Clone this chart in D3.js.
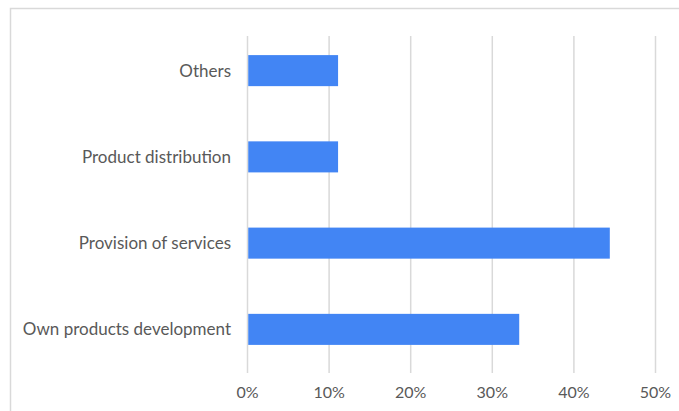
<!DOCTYPE html>
<html><head><meta charset="utf-8">
<script src="https://cdn.jsdelivr.net/npm/d3@7"></script>
<style>body{margin:0;background:#fff;}svg{display:block;}</style>
</head><body>
<script>
const categories = ["Others", "Product distribution", "Provision of services", "Own products development"];
const values = [11.1, 11.1, 44.4, 33.3];
const tickValues = [0, 10, 20, 30, 40, 50];
const tickLabels = ["0%", "10%", "20%", "30%", "40%", "50%"];

const W = 679, H = 411;
const svg = d3.select("body").append("svg").attr("width", W).attr("height", H);

svg.append("rect").attr("x", 10.5).attr("y", 8.5).attr("width", 700).attr("height", 500)
  .attr("fill", "none").attr("stroke", "#d9d9d9").attr("stroke-width", 1.5);

const x = d3.scaleLinear().domain([0, 50]).range([247.5, 655.5]);
const y = d3.scaleBand().domain(categories).range([27.5, 372.5]).paddingInner(0.64).paddingOuter(0.32);

const grid = svg.append("g");
grid.selectAll("line").data(tickValues).join("line")
  .attr("x1", d => x(d)).attr("x2", d => x(d)).attr("y1", 36).attr("y2", 373)
  .attr("stroke", "#d9d9d9").attr("stroke-width", 1.5);

svg.append("g").selectAll("rect").data(categories).join("rect")
  .attr("x", x(0) + 0.75).attr("y", d => y(d))
  .attr("width", (d, i) => x(values[i]) - x(0) - 0.75).attr("height", y.bandwidth())
  .attr("fill", "#4285f4");

const font = "Lato, sans-serif";
svg.append("g").selectAll("text").data(categories).join("text")
  .attr("x", 231).attr("y", d => y(d) + y.bandwidth() / 2).attr("dy", "0.35em")
  .attr("text-anchor", "end").attr("font-family", font).attr("font-size", 17)
  .attr("fill", "#595959").text(d => d);

svg.append("g").selectAll("text").data(tickValues).join("text")
  .attr("x", d => x(d)).attr("y", 398).attr("text-anchor", "middle")
  .attr("font-family", font).attr("font-size", 16).attr("fill", "#595959")
  .text((d, i) => tickLabels[i]);
</script>
</body></html>
